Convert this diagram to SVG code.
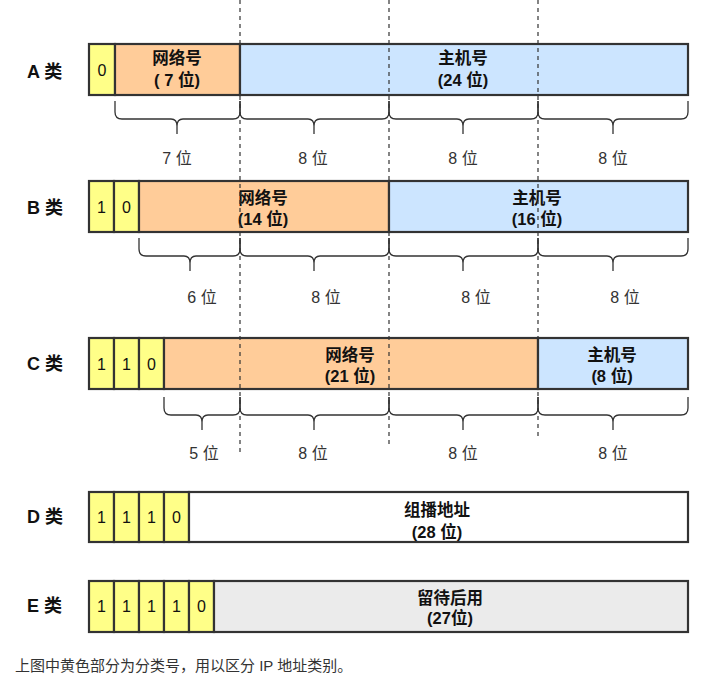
<svg xmlns="http://www.w3.org/2000/svg" width="703" height="689" viewBox="0 0 703 689">
<style>
.bg{fill:#ffffff}
.box{stroke:#333;stroke-width:2.2}
.bit{fill:#ffff88}
.net{fill:#ffcc99}
.host{fill:#cce5ff}
.mc{fill:#ffffff}
.rsv{fill:#ebebeb}
.t{font-family:"Liberation Sans","Noto Sans CJK SC",sans-serif;fill:#111}
.cls{font-size:18px;font-weight:bold}
.in{font-size:16.5px;font-weight:bold;text-anchor:middle}
.bt{font-size:16px;text-anchor:middle}
.lbl{font-family:"Liberation Sans","Noto Sans CJK SC",sans-serif;font-size:16px;fill:#333;text-anchor:middle}
.brace{fill:none;stroke:#333;stroke-width:1.3}
.dash{stroke:#333;stroke-width:1.2;stroke-dasharray:4,4}
.cap{font-family:"Liberation Sans","Noto Sans CJK SC",sans-serif;font-size:15px;fill:#333}
</style>
<rect class="bg" x="0" y="0" width="703" height="689"/>

<g id="classA">
<text class="t cls" x="27" y="78">A 类</text>
<rect class="box bit" x="89" y="44" width="26" height="51"/>
<rect class="box net" x="115" y="44" width="125" height="51"/>
<rect class="box host" x="240" y="44" width="448" height="51"/>
<text class="t bt" x="102" y="76">0</text>
<text class="t in" x="177" y="64">网络号</text>
<text class="t in" x="177" y="86">( 7 位)</text>
<text class="t in" x="463" y="64">主机号</text>
<text class="t in" x="463" y="86">(24 位)</text>
</g>

<g id="classB">
<text class="t cls" x="27" y="214">B 类</text>
<rect class="box bit" x="89" y="181" width="25" height="51"/>
<rect class="box bit" x="114" y="181" width="25" height="51"/>
<rect class="box net" x="139" y="181" width="250" height="51"/>
<rect class="box host" x="389" y="181" width="299" height="51"/>
<text class="t bt" x="101.5" y="213">1</text>
<text class="t bt" x="126.5" y="213">0</text>
<text class="t in" x="263" y="204">网络号</text>
<text class="t in" x="263" y="225">(14 位)</text>
<text class="t in" x="537" y="204">主机号</text>
<text class="t in" x="537" y="225">(16 位)</text>
</g>

<g id="classC">
<text class="t cls" x="27" y="370">C 类</text>
<rect class="box bit" x="89" y="338" width="25" height="51"/>
<rect class="box bit" x="114" y="338" width="25" height="51"/>
<rect class="box bit" x="139" y="338" width="25" height="51"/>
<rect class="box net" x="164" y="338" width="374" height="51"/>
<rect class="box host" x="538" y="338" width="150" height="51"/>
<text class="t bt" x="101.5" y="370">1</text>
<text class="t bt" x="126.5" y="370">1</text>
<text class="t bt" x="151.5" y="370">0</text>
<text class="t in" x="350" y="361">网络号</text>
<text class="t in" x="350" y="382">(21 位)</text>
<text class="t in" x="612" y="361">主机号</text>
<text class="t in" x="612" y="382">(8 位)</text>
</g>

<g id="classD">
<text class="t cls" x="27" y="523">D 类</text>
<rect class="box bit" x="89" y="492" width="25" height="50"/>
<rect class="box bit" x="114" y="492" width="25" height="50"/>
<rect class="box bit" x="139" y="492" width="25" height="50"/>
<rect class="box bit" x="164" y="492" width="25" height="50"/>
<rect class="box mc" x="189" y="492" width="499" height="50"/>
<text class="t bt" x="101.5" y="523">1</text>
<text class="t bt" x="126.5" y="523">1</text>
<text class="t bt" x="151.5" y="523">1</text>
<text class="t bt" x="176.5" y="523">0</text>
<text class="t in" x="437" y="516">组播地址</text>
<text class="t in" x="437" y="538">(28 位)</text>
</g>

<g id="classE">
<text class="t cls" x="27" y="612">E 类</text>
<rect class="box bit" x="89" y="581" width="25" height="51"/>
<rect class="box bit" x="114" y="581" width="25" height="51"/>
<rect class="box bit" x="139" y="581" width="25" height="51"/>
<rect class="box bit" x="164" y="581" width="25" height="51"/>
<rect class="box bit" x="189" y="581" width="25" height="51"/>
<rect class="box rsv" x="214" y="581" width="474" height="51"/>
<text class="t bt" x="101.5" y="612">1</text>
<text class="t bt" x="126.5" y="612">1</text>
<text class="t bt" x="151.5" y="612">1</text>
<text class="t bt" x="176.5" y="612">1</text>
<text class="t bt" x="201.5" y="612">0</text>
<text class="t in" x="450" y="604">留待后用</text>
<text class="t in" x="450" y="624">(27位)</text>
</g>

<g id="connectors">
<line class="dash" x1="240" y1="0" x2="240" y2="452"/>
<line class="dash" x1="389" y1="0" x2="389" y2="445"/>
<line class="dash" x1="538" y1="0" x2="538" y2="438"/>

<path class="brace" d="M115 101 V112 Q115 119 122 119 H171 Q177 119 177 126 V134 M177 126 Q177 119 183 119 H233 Q240 119 240 112 V101"/>
<path class="brace" d="M240 101 V112 Q240 119 247 119 H308 Q314 119 314 126 V134 M314 126 Q314 119 320 119 H382 Q389 119 389 112 V101"/>
<path class="brace" d="M389 101 V112 Q389 119 396 119 H457 Q463 119 463 126 V134 M463 126 Q463 119 469 119 H531 Q538 119 538 112 V101"/>
<path class="brace" d="M538 101 V112 Q538 119 545 119 H607 Q613 119 613 126 V134 M613 126 Q613 119 619 119 H681 Q688 119 688 112 V101"/>

<path class="brace" d="M139 238 V249 Q139 256 146 256 H184 Q190 256 190 263 V271 M190 263 Q190 256 196 256 H233 Q240 256 240 249 V238"/>
<path class="brace" d="M240 238 V249 Q240 256 247 256 H308 Q314 256 314 263 V271 M314 263 Q314 256 320 256 H382 Q389 256 389 249 V238"/>
<path class="brace" d="M389 238 V249 Q389 256 396 256 H457 Q463 256 463 263 V271 M463 263 Q463 256 469 256 H531 Q538 256 538 249 V238"/>
<path class="brace" d="M538 238 V249 Q538 256 545 256 H607 Q613 256 613 263 V271 M613 263 Q613 256 619 256 H681 Q688 256 688 249 V238"/>

<path class="brace" d="M164 397 V408 Q164 415 171 415 H196 Q202 415 202 422 V430 M202 422 Q202 415 208 415 H233 Q240 415 240 408 V397"/>
<path class="brace" d="M240 397 V408 Q240 415 247 415 H308 Q314 415 314 422 V430 M314 422 Q314 415 320 415 H382 Q389 415 389 408 V397"/>
<path class="brace" d="M389 397 V408 Q389 415 396 415 H457 Q463 415 463 422 V430 M463 422 Q463 415 469 415 H531 Q538 415 538 408 V397"/>
<path class="brace" d="M538 397 V408 Q538 415 545 415 H607 Q613 415 613 422 V430 M613 422 Q613 415 619 415 H681 Q688 415 688 408 V397"/>
</g>

<g id="labels">
<text class="lbl" x="177" y="164">7 位</text>
<text class="lbl" x="313" y="164">8 位</text>
<text class="lbl" x="463" y="164">8 位</text>
<text class="lbl" x="613" y="164">8 位</text>
<text class="lbl" x="202" y="303">6 位</text>
<text class="lbl" x="326" y="303">8 位</text>
<text class="lbl" x="476" y="303">8 位</text>
<text class="lbl" x="625" y="303">8 位</text>
<text class="lbl" x="204" y="459">5 位</text>
<text class="lbl" x="313" y="459">8 位</text>
<text class="lbl" x="463" y="459">8 位</text>
<text class="lbl" x="613" y="459">8 位</text>
</g>

<text class="cap" x="15" y="671">上图中黄色部分为分类号，用以区分 IP 地址类别。</text>
</svg>
